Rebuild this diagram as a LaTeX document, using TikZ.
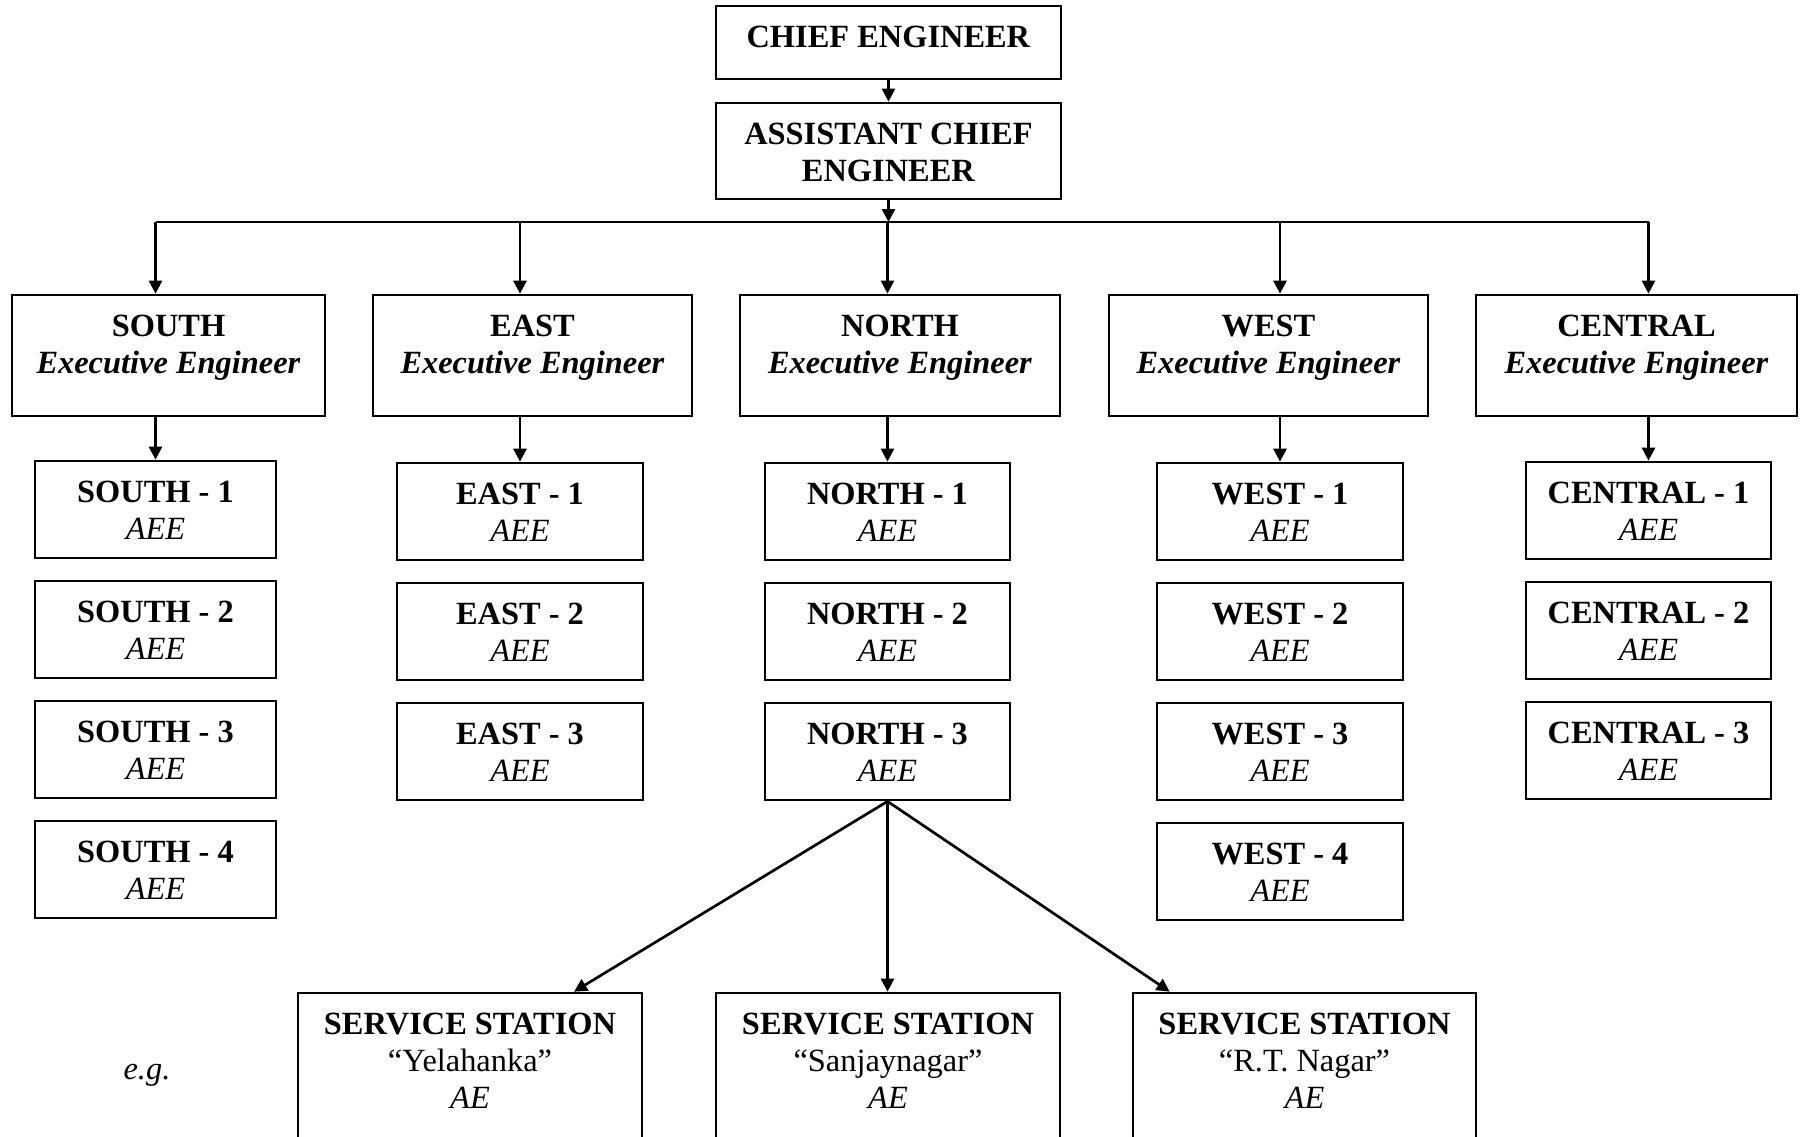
\documentclass[tikz,border=0pt]{standalone}
\usepackage{fontspec}
\setmainfont{Liberation Serif}
\usetikzlibrary{arrows.meta,calc}
\newcommand\mybox[6]{%
  \node[box, minimum width={(#4-#2)*0.5pt}, minimum height={(#5-#3)*0.5pt}] (#1) at ({(#2+#4)/2},{(#3+#5)/2}) {};
  \node[lbl] (#1-t) at ($(#1.north)+(0,21)$) {#6};}
\newcommand\aee[1]{\textbf{#1}\\\textit{AEE}}
\newcommand\eeng[1]{\textbf{#1}\\\textbf{\textit{Executive Engineer}}}
\begin{document}
\begin{tikzpicture}[x=0.5pt,y=-0.5pt,
  box/.style={draw, line width=1.35pt, inner sep=0pt},
  lbl/.style={anchor=north, inner sep=0pt, align=center, font=\fontsize{16.2}{18.5}\selectfont},
  wire/.style={line width=1.35pt},
  conn/.style={line width=1.35pt, -{Triangle[length=6.5pt,width=6.5pt]}}]
\useasboundingbox (0,0) rectangle (1800,1136);
\clip (0,0) rectangle (1800,1136);
\coordinate (bar) at (0,222);
% top
\mybox{ce}{716}{6}{1061}{79}{\textbf{CHIEF ENGINEER}}
\mybox{ace}{716}{103}{1061}{199}{\textbf{ASSISTANT CHIEF}\\\textbf{ENGINEER}}
% executive engineers
\mybox{se}{12}{295}{325}{416}{\eeng{SOUTH}}
\mybox{ee}{373}{295}{692}{416}{\eeng{EAST}}
\mybox{ne}{740}{295}{1060}{416}{\eeng{NORTH}}
\mybox{we}{1109}{295}{1428}{416}{\eeng{WEST}}
\mybox{cee}{1476}{295}{1797}{416}{\eeng{CENTRAL}}
% south
\mybox{s1}{35}{461}{276}{558}{\aee{SOUTH - 1}}
\mybox{s2}{35}{581}{276}{678}{\aee{SOUTH - 2}}
\mybox{s3}{35}{701}{276}{798}{\aee{SOUTH - 3}}
\mybox{s4}{35}{821}{276}{918}{\aee{SOUTH - 4}}
% east
\mybox{e1}{397}{463}{643}{560}{\aee{EAST - 1}}
\mybox{e2}{397}{583}{643}{680}{\aee{EAST - 2}}
\mybox{e3}{397}{703}{643}{800}{\aee{EAST - 3}}
% north
\mybox{n1}{765}{463}{1010}{560}{\aee{NORTH - 1}}
\mybox{n2}{765}{583}{1010}{680}{\aee{NORTH - 2}}
\mybox{n3}{765}{703}{1010}{800}{\aee{NORTH - 3}}
% west
\mybox{w1}{1157}{463}{1403}{560}{\aee{WEST - 1}}
\mybox{w2}{1157}{583}{1403}{680}{\aee{WEST - 2}}
\mybox{w3}{1157}{703}{1403}{800}{\aee{WEST - 3}}
\mybox{w4}{1157}{823}{1403}{920}{\aee{WEST - 4}}
% central
\mybox{c1}{1526}{462}{1771}{559}{\aee{CENTRAL - 1}}
\mybox{c2}{1526}{582}{1771}{679}{\aee{CENTRAL - 2}}
\mybox{c3}{1526}{702}{1771}{799}{\aee{CENTRAL - 3}}
% service stations
\mybox{ss1}{298}{993}{642}{1180}{\textbf{SERVICE STATION}\\“Yelahanka”\\\textit{AE}}
\mybox{ss2}{716}{993}{1060}{1180}{\textbf{SERVICE STATION}\\“Sanjaynagar”\\\textit{AE}}
\mybox{ss3}{1133}{993}{1476}{1180}{\textbf{SERVICE STATION}\\“R.T. Nagar”\\\textit{AE}}
\node[anchor=base, inner sep=0pt, font=\fontsize{16.2}{18.5}\selectfont\itshape] (eg) at (147,1079) {e.g.};
% connectors
\draw[conn] (ce) -- (ace);
\draw[wire] (s1.north |- bar) -- (c1.north |- bar);
\draw[conn] (ace.south) -- (ace.south |- bar);
\foreach \e/\s in {se/s1, ee/e1, ne/n1, we/w1, cee/c1}{
  \draw[conn] (\s.north |- bar) -- (\s.north |- \e.north);
  \draw[conn] (\s.north |- \e.south) -- (\s.north);
}
\draw[conn] (n3.south) -- ($(ss1.north west)!0.8!(ss1.north east)$);
\draw[conn] (n3.south) -- (n3.south |- ss2.north);
\draw[conn] (n3.south) -- ($(ss3.north west)!0.11!(ss3.north east)$);
\end{tikzpicture}
\end{document}
